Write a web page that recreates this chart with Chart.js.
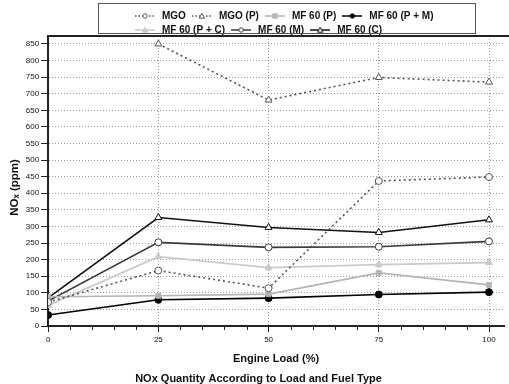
<!DOCTYPE html>
<html><head><meta charset="utf-8">
<script src="https://cdn.jsdelivr.net/npm/chart.js@4.4.0/dist/chart.umd.min.js"></script>
<style>html,body{margin:0;padding:0;background:#fff}#wrap{width:509px;height:384px}</style>
</head><body><div id="wrap"><canvas id="c" width="509" height="384"></canvas></div>
<script>
const loads = [0, 25, 50, 75, 100];
const seriesNames = ["MGO", "MGO (P)", "MF 60 (P)", "MF 60 (P + M)", "MF 60 (P + C)", "MF 60 (M)", "MF 60 (C)"];
const mgo = [72, 167, 114, 437, 449];
const mgoP = [null, 850, 681, 749, 735];
const mf60P = [88, 91, 96, 160, 124];
const mf60PM = [33, 79, 84, 95, 102];
const mf60PC = [62, 209, 176, 185, 191];
const mf60M = [75, 252, 237, 239, 255];
const mf60C = [85, 327, 297, 282, 320];
const yTicks = [0,50,100,150,200,250,300,350,400,450,500,550,600,650,700,750,800,850];
const xTickLabels = [0, 25, 50, 75, 100];
const xMinorTicks = [5,10,15,20,30,35,40,45,55,60,65,70,80,85,90,95];

const FONT = "'Liberation Sans', Arial, Helvetica, sans-serif";
const styles = [
  {color:'#555', fill:'#fff', dash:[2,3], ps:'circle', r:3.5},
  {color:'#555', fill:'#fff', dash:[2,3], ps:'triangle', r:4},
  {color:'#b4b4b4', fill:'#b4b4b4', dash:[], ps:'rect', r:3.5},
  {color:'#000', fill:'#000', dash:[], ps:'circle', r:3.5},
  {color:'#cacaca', fill:'#cacaca', dash:[], ps:'triangle', r:4},
  {color:'#3a3a3a', fill:'#fff', dash:[], ps:'circle', r:3.5},
  {color:'#111', fill:'#fff', dash:[], ps:'triangle', r:4}
];
const values = [mgo, mgoP, mf60P, mf60PM, mf60PC, mf60M, mf60C];

function legendIcon(s){
  const cv = document.createElement('canvas');
  cv.width = 20; cv.height = 8;
  const g = cv.getContext('2d');
  g.strokeStyle = s.color; g.lineWidth = 1.5;
  g.setLineDash(s.dash.length ? [1.5,2] : []);
  g.beginPath(); g.moveTo(0,4); g.lineTo(20,4); g.stroke();
  g.setLineDash([]);
  g.fillStyle = s.fill; g.lineWidth = 1;
  const r = 2.2;
  g.beginPath();
  if (s.ps === 'circle') g.arc(10,4,r,0,Math.PI*2);
  else if (s.ps === 'triangle') { g.moveTo(10,4-r-0.5); g.lineTo(10+r+0.5,4+r); g.lineTo(10-r-0.5,4+r); g.closePath(); }
  else g.rect(10-r,4-r,2*r,2*r);
  g.fill(); g.stroke();
  return cv;
}
const icons = styles.map(legendIcon);

const datasets = seriesNames.map((n,i)=>({
  label: n,
  data: values[i].map((v,j)=>({x: loads[j], y: v})),
  borderColor: styles[i].color,
  backgroundColor: styles[i].fill,
  pointBackgroundColor: styles[i].fill,
  pointBorderColor: styles[i].color,
  pointStyle: styles[i].ps,
  pointRadius: styles[i].r,
  pointBorderWidth: 1,
  borderWidth: 1.6,
  borderDash: styles[i].dash,
  tension: 0,
  spanGaps: false
}));

const framePlugin = {
  id: 'frame',
  afterLayout(chart){
    const lg = chart.legend;
    if (!lg) return;
    lg.top = 7;
    lg.left = 129;
    lg.right = 480;
  },
  afterDraw(chart){
    const {ctx, chartArea} = chart;
    ctx.save();
    ctx.strokeStyle = '#222'; ctx.lineWidth = 2;
    ctx.beginPath(); ctx.moveTo(chartArea.left, chartArea.top); ctx.lineTo(chart.width, chartArea.top); ctx.stroke();
    const xs = chart.scales.x;
    ctx.lineWidth = 1; ctx.strokeStyle = '#222';
    xMinorTicks.forEach(v=>{
      const px = Math.round(xs.getPixelForValue(v)) + 0.5;
      ctx.beginPath(); ctx.moveTo(px, chartArea.bottom); ctx.lineTo(px, chartArea.bottom + 4); ctx.stroke();
    });
    const lg = chart.legend;
    if (lg){
      ctx.strokeStyle = '#555'; ctx.lineWidth = 1;
      const x0 = Math.round(lg.left - 31) + 0.5;
      const y0 = Math.round(lg.top - 4) + 0.5;
      ctx.strokeRect(x0, y0, 377, 30);
    }
    ctx.restore();
  }
};

new Chart(document.getElementById('c'), {
  type: 'line',
  data: { datasets },
  options: {
    responsive: false,
    animation: false,
    layout: { padding: { left: 8, right: 0, top: -2, bottom: -2 } },
    plugins: {
      legend: {
        position: 'top',
        align: 'start',
        labels: {
          usePointStyle: true,
          pointStyleWidth: 24,
          padding: 4,
          color: '#111',
          font: { family: FONT, size: 10, weight: 'bold' },
          generateLabels(chart){
            const items = Chart.defaults.plugins.legend.labels.generateLabels(chart);
            items.forEach((it,i)=>{ it.pointStyle = icons[i]; });
            return items;
          }
        }
      },
      title: {
        display: true,
        position: 'bottom',
        text: 'NOx Quantity According to Load and Fuel Type',
        color: '#111',
        font: { family: FONT, size: 11, weight: 'bold' },
        padding: { top: 7, bottom: 0 }
      },
      tooltip: { enabled: false }
    },
    scales: {
      x: {
        type: 'linear',
        min: 0, max: 103.4,
        afterBuildTicks(axis){ axis.ticks = xTickLabels.map(v=>({value:v})); },
        ticks: {
          autoSkip: false, maxRotation: 0,
          color: '#111',
          font: { family: FONT, size: 8 },
          padding: 3
        },
        grid: {
          color: c => (c.tick && c.tick.value > 0) ? '#9a9a9a' : 'rgba(0,0,0,0)',
          tickColor: '#222',
          tickLength: 6,
          lineWidth: 1
        },
        border: { display: true, color: '#222', width: 2, dash: [1,2] },
        title: {
          display: true, text: 'Engine Load (%)', color: '#111',
          font: { family: FONT, size: 11, weight: 'bold' },
          padding: { top: 5, bottom: 0 }
        }
      },
      y: {
        type: 'linear',
        min: 0, max: 874,
        afterBuildTicks(axis){ axis.ticks = yTicks.map(v=>({value:v})); },
        ticks: {
          autoSkip: false,
          color: '#111',
          font: { family: FONT, size: 8 },
          padding: 2
        },
        grid: {
          color: c => (c.tick && c.tick.value > 0) ? '#9a9a9a' : 'rgba(0,0,0,0)',
          tickColor: '#222',
          tickLength: 7,
          lineWidth: 1
        },
        border: { display: true, color: '#222', width: 2, dash: [1,2] },
        title: {
          display: true, text: 'NOₓ (ppm)    ', color: '#111',
          font: { family: FONT, size: 11.5, weight: 'bold' },
          padding: { top: 0, bottom: 2 }
        }
      }
    }
  },
  plugins: [framePlugin]
});
</script>
</body></html>
